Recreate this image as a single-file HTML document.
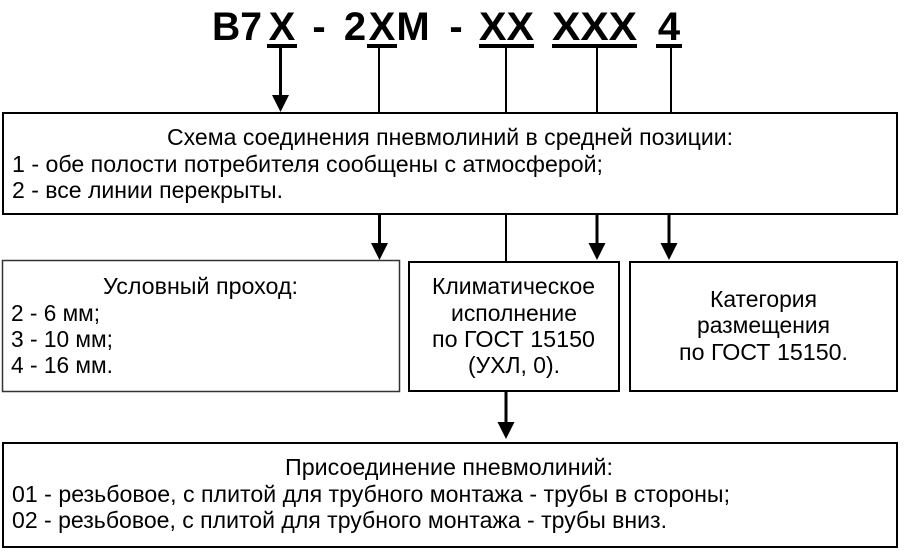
<!DOCTYPE html>
<html><head><meta charset="utf-8">
<style>
html,body{margin:0;padding:0;background:#fff;}
svg{display:block;}
text{font-family:"Liberation Sans","DejaVu Sans",sans-serif;fill:#000;}
.b{font-size:23px;}
.t{font-size:40px;font-weight:bold;}
</style></head>
<body>
<svg width="904" height="558" viewBox="0 0 904 558" xmlns="http://www.w3.org/2000/svg">
<!-- title -->
<text class="t" x="212" y="40" textLength="50" lengthAdjust="spacingAndGlyphs">B7</text>
<text class="t" x="282" y="40" text-anchor="middle">X</text>
<text class="t" x="319" y="40" text-anchor="middle">-</text>
<text class="t" x="355" y="40" text-anchor="middle">2</text>
<text class="t" x="382" y="40" text-anchor="middle">X</text>
<text class="t" x="413" y="40" text-anchor="middle">M</text>
<text class="t" x="456" y="40" text-anchor="middle">-</text>
<text class="t" x="479" y="40" textLength="55" lengthAdjust="spacingAndGlyphs">XX</text>
<text class="t" x="552" y="40" textLength="85" lengthAdjust="spacingAndGlyphs">XXX</text>
<text class="t" x="669" y="40" text-anchor="middle">4</text>
<!-- underlines -->
<g fill="#000">
<rect x="267" y="44" width="30" height="4"/>
<rect x="367" y="44" width="30" height="4"/>
<rect x="479" y="44" width="55" height="4"/>
<rect x="552" y="44" width="85" height="4"/>
<rect x="656" y="44" width="26" height="4"/>
</g>
<!-- top connectors -->
<g stroke="#000" fill="none">
<line x1="280.5" y1="48" x2="280.5" y2="96" stroke-width="3"/>
<line x1="379" y1="48" x2="379" y2="113" stroke-width="2"/>
<line x1="506" y1="48" x2="506" y2="113" stroke-width="2"/>
<line x1="597" y1="48" x2="597" y2="113" stroke-width="2"/>
<line x1="671" y1="48" x2="671" y2="113" stroke-width="2"/>
</g>
<polygon points="272,95 289,95 280.5,112" fill="#000"/>
<!-- box 1 -->
<rect x="3" y="113" width="894" height="101" fill="none" stroke="#000" stroke-width="2"/>
<text class="b" x="167" y="145" textLength="566" lengthAdjust="spacingAndGlyphs">Схема соединения пневмолиний в средней позиции:</text>
<text class="b" x="12" y="172" textLength="591" lengthAdjust="spacingAndGlyphs">1 - обе полости потребителя сообщены с атмосферой;</text>
<text class="b" x="12" y="198" textLength="271" lengthAdjust="spacingAndGlyphs">2 - все линии перекрыты.</text>
<!-- middle connectors -->
<g stroke="#000" fill="none">
<line x1="379.5" y1="214" x2="379.5" y2="244" stroke-width="3"/>
<line x1="506" y1="214" x2="506" y2="262" stroke-width="2"/>
<line x1="597" y1="214" x2="597" y2="244" stroke-width="3"/>
<line x1="669" y1="214" x2="669" y2="244" stroke-width="3"/>
<line x1="506" y1="391" x2="506" y2="423" stroke-width="3"/>
</g>
<polygon points="371,243 388,243 379.5,260" fill="#000"/>
<polygon points="588.5,243 605.5,243 597,260" fill="#000"/>
<polygon points="660.5,243 677.5,243 669,260" fill="#000"/>
<polygon points="497.5,422 514.5,422 506,439" fill="#000"/>
<!-- box 2 -->
<rect x="2.5" y="260.5" width="397" height="131" fill="none" stroke="#333" stroke-width="1.5"/>
<text class="b" x="103" y="294" textLength="195" lengthAdjust="spacingAndGlyphs">Условный проход:</text>
<text class="b" x="11" y="321" textLength="89" lengthAdjust="spacingAndGlyphs">2 - 6 мм;</text>
<text class="b" x="11" y="347" textLength="102" lengthAdjust="spacingAndGlyphs">3 - 10 мм;</text>
<text class="b" x="11" y="373" textLength="102" lengthAdjust="spacingAndGlyphs">4 - 16 мм.</text>
<!-- box 3 -->
<rect x="409" y="262" width="210" height="129" fill="none" stroke="#000" stroke-width="2"/>
<text class="b" x="432" y="294" textLength="163" lengthAdjust="spacingAndGlyphs">Климатическое</text>
<text class="b" x="451" y="321" textLength="126" lengthAdjust="spacingAndGlyphs">исполнение</text>
<text class="b" x="432" y="347" textLength="163" lengthAdjust="spacingAndGlyphs">по ГОСТ 15150</text>
<text class="b" x="468" y="373" textLength="92" lengthAdjust="spacingAndGlyphs">(УХЛ, 0).</text>
<!-- box 4 -->
<rect x="630" y="262" width="267" height="129" fill="none" stroke="#000" stroke-width="2"/>
<text class="b" x="710" y="307" textLength="107" lengthAdjust="spacingAndGlyphs">Категория</text>
<text class="b" x="697" y="333" textLength="133" lengthAdjust="spacingAndGlyphs">размещения</text>
<text class="b" x="679" y="360" textLength="169" lengthAdjust="spacingAndGlyphs">по ГОСТ 15150.</text>
<!-- box 5 -->
<rect x="3" y="443" width="894" height="104" fill="none" stroke="#000" stroke-width="2"/>
<text class="b" x="285" y="475" textLength="328" lengthAdjust="spacingAndGlyphs">Присоединение пневмолиний:</text>
<text class="b" x="12" y="502" textLength="718" lengthAdjust="spacingAndGlyphs">01 - резьбовое, с плитой для трубного монтажа - трубы в стороны;</text>
<text class="b" x="12" y="528" textLength="655" lengthAdjust="spacingAndGlyphs">02 - резьбовое, с плитой для трубного монтажа - трубы вниз.</text>
</svg>
</body></html>
